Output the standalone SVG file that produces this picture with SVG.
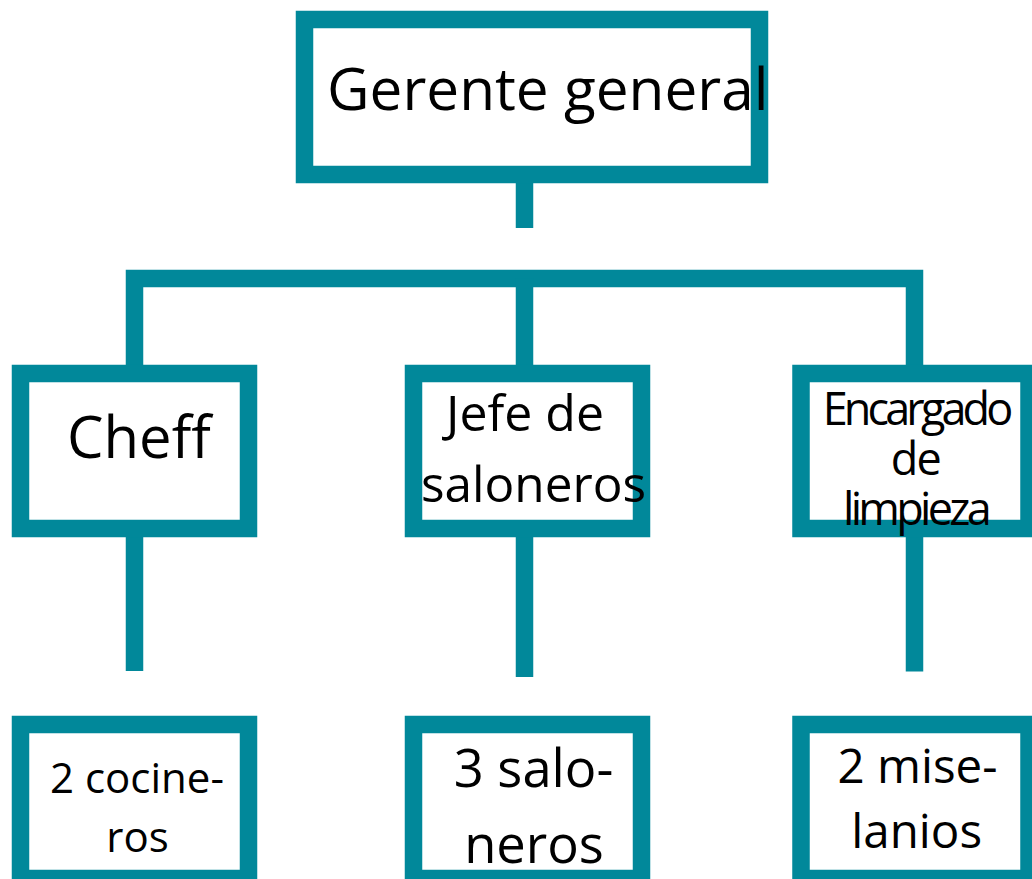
<svg xmlns="http://www.w3.org/2000/svg" width="1032" height="879" viewBox="0 0 1032 879">
  <style>
    .box { fill: #ffffff; stroke: #01889A; stroke-width: 17.5; }
    .conn { fill: none; stroke: #01889A; stroke-width: 17.5; stroke-linejoin: miter; stroke-linecap: butt; }
    text { font-family: "Open Sans", "Noto Sans", "DejaVu Sans", sans-serif; fill: #000000; }
  </style>
  <rect width="1032" height="879" fill="#ffffff"/>
  <g id="connectors">
    <path class="conn" d="M524.5 183 V228"/>
    <path class="conn" d="M134.5 365 V278.5 H914.5 V365"/>
    <path class="conn" d="M524.5 278.5 V365"/>
    <path class="conn" d="M134.5 537 V671"/>
    <path class="conn" d="M524.5 537 V677"/>
    <path class="conn" d="M914.5 537 V671.5"/>
  </g>
  <g id="gerente">
    <rect class="box" x="304.5" y="19.5" width="455" height="155"/>
    <text x="327" y="110" font-size="58.5">Gerente general</text>
  </g>
  <g id="cheff">
    <rect class="box" x="20.5" y="373.5" width="228" height="155"/>
    <text x="67" y="458" font-size="58">Cheff</text>
  </g>
  <g id="jefe">
    <rect class="box" x="413.5" y="373.5" width="228" height="155"/>
    <text x="525" y="431" font-size="50" text-anchor="middle">Jefe de</text>
    <text x="533.5" y="502" font-size="49.5" text-anchor="middle">saloneros</text>
  </g>
  <g id="encargado">
    <rect class="box" x="801" y="373.5" width="228" height="155"/>
    <text x="822.7" y="425" font-size="45" textLength="190.6" lengthAdjust="spacing">Encargado</text>
    <text x="890.7" y="475" font-size="45" textLength="51" lengthAdjust="spacing">de</text>
    <text x="843" y="525" font-size="45" textLength="148.7" lengthAdjust="spacing">limpieza</text>
  </g>
  <g id="cocineros">
    <rect class="box" x="20.5" y="724.5" width="228" height="154"/>
    <text x="137" y="793" font-size="42" text-anchor="middle">2 cocine-</text>
    <text x="137.5" y="852" font-size="42" text-anchor="middle">ros</text>
  </g>
  <g id="saloneros">
    <rect class="box" x="413.5" y="724.5" width="228" height="154"/>
    <text x="533.5" y="787" font-size="52.5" text-anchor="middle">3 salo-</text>
    <text x="534" y="863" font-size="52.5" text-anchor="middle">neros</text>
  </g>
  <g id="miselanios">
    <rect class="box" x="801" y="724.5" width="228" height="154"/>
    <text x="917.5" y="782.5" font-size="47.5" text-anchor="middle">2 mise-</text>
    <text x="916.7" y="848" font-size="47.5" text-anchor="middle">lanios</text>
  </g>
</svg>
